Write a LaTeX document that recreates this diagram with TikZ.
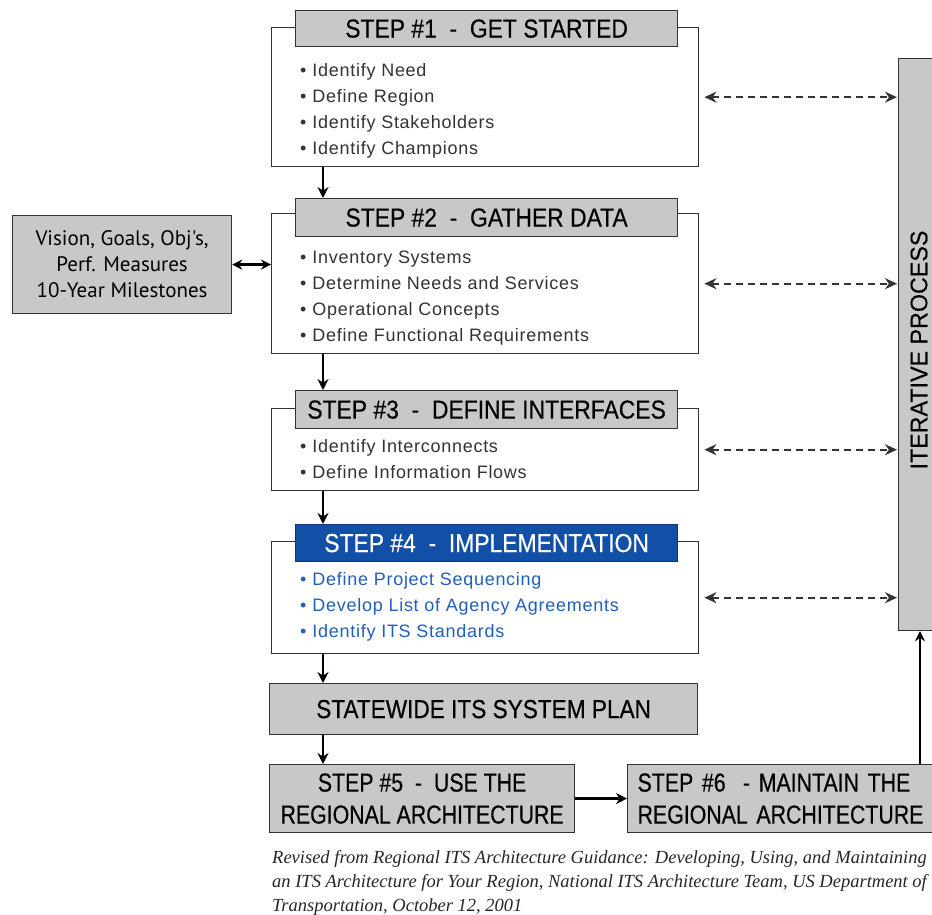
\documentclass[tikz,border=0pt]{standalone}
\usepackage{fontspec}
\setmainfont{Liberation Sans}
\newfontfamily\condh{Liberation Sans}[FakeStretch=0.88,FakeBold=0.4]
\newfontfamily\condsw{Liberation Sans}[FakeStretch=0.87,FakeBold=0.4]
\newfontfamily\condst{Liberation Sans}[FakeStretch=0.82,FakeBold=0.4]
\newfontfamily\condit{Liberation Sans}[FakeStretch=0.97,FakeBold=0.3]
\newfontfamily\bul{Liberation Sans}[LetterSpace=4]
\newfontfamily\myr{PT Sans}
\newfontfamily\capf{Liberation Serif}
\usetikzlibrary{arrows.meta}
\definecolor{boxgray}{HTML}{C8C8C8}
\definecolor{stepblue}{HTML}{1150A6}
\definecolor{bulblue}{HTML}{2160B8}
\definecolor{edge}{HTML}{333333}
\begin{document}
\begin{tikzpicture}[x=1pt,y=-1pt,
 outer/.style={draw=edge, line width=1.4pt, fill=white, anchor=north west, inner sep=0pt},
 head/.style={draw=edge, line width=1.2pt, fill=boxgray, anchor=north west, inner sep=0pt, font=\condh\fontsize{26}{26}\selectfont, text=black},
 graybox/.style={draw=edge, line width=1.2pt, fill=boxgray, anchor=north west, inner sep=0pt, align=center, text=black},
 bullets/.style={anchor=north west, align=left, inner sep=0pt, font=\bul\fontsize{18}{26}\selectfont, text=black!80},
 arr/.style={line width=2.8pt, -{Stealth[length=11pt,width=11pt]}},
 darr/.style={line width=2pt, dash pattern=on 7pt off 5pt, draw=edge, {Stealth[length=12pt,width=11pt]}-{Stealth[length=12pt,width=11pt]}},
 barr/.style={line width=2.6pt, {Stealth[length=10pt,width=10pt]}-{Stealth[length=10pt,width=10pt]}}
]
\useasboundingbox (0,0) rectangle (932,915);
\clip (0,0) rectangle (932,915);

% Step 1
\node[outer, minimum width=427pt, minimum height=139pt] (s1) at (271,27) {};
\node[head, minimum width=382pt, minimum height=36pt] (h1) at (295,10) {STEP \#1\ \ -\ \ GET STARTED};
\node[bullets] (b1) at (300,63) {\textbullet\hspace{6pt}Identify Need\\ \textbullet\hspace{6pt}Define Region\\ \textbullet\hspace{6pt}Identify Stakeholders\\ \textbullet\hspace{6pt}Identify Champions};

% Step 2
\node[outer, minimum width=427pt, minimum height=140pt] (s2) at (271,213) {};
\node[head, minimum width=382pt, minimum height=38pt] (h2) at (295,198) {STEP \#2\ \ -\ \ GATHER DATA};
\node[bullets] (b2) at (300,251) {\textbullet\hspace{6pt}Inventory Systems\\ \textbullet\hspace{6pt}Determine Needs and Services\\ \textbullet\hspace{6pt}Operational Concepts\\ \textbullet\hspace{6pt}Define Functional Requirements};

% Step 3
\node[outer, minimum width=427pt, minimum height=82pt] (s3) at (271,408) {};
\node[head, minimum width=382pt, minimum height=38pt] (h3) at (295,390) {STEP \#3\ \ -\ \ DEFINE INTERFACES};
\node[bullets] (b3) at (300,439) {\textbullet\hspace{6pt}Identify Interconnects\\ \textbullet\hspace{6pt}Define Information Flows};

% Step 4
\node[outer, minimum width=427pt, minimum height=112pt] (s4) at (271,541) {};
\node[head, fill=stepblue, draw=stepblue!70!black, text=white, minimum width=382pt, minimum height=37pt] (h4) at (295,524) {STEP \#4\ \ -\ \ IMPLEMENTATION};
\node[bullets, text=bulblue] (b4) at (300,572) {\textbullet\hspace{6pt}Define Project Sequencing\\ \textbullet\hspace{6pt}Develop List of Agency Agreements\\ \textbullet\hspace{6pt}Identify ITS Standards};

% Vision
\node[graybox, minimum width=219pt, minimum height=98pt, font=\myr\fontsize{21}{26}\selectfont] (vis) at (12,215) {Vision, Goals, Obj's,\\ Perf. Measures\\ 10-Year Milestones};

% Statewide plan
\node[graybox, minimum width=428pt, minimum height=51pt, font=\condsw\fontsize{26}{26}\selectfont] (sw) at (269,683) {STATEWIDE ITS SYSTEM PLAN};

% Step 5 and 6
\node[graybox, minimum width=305pt, minimum height=68pt, font=\condst\fontsize{26}{32}\selectfont] (s5) at (269,764) {STEP \#5\ \ -\ \ USE THE\\ REGIONAL ARCHITECTURE};
\node[graybox, minimum width=320pt, minimum height=68pt, align=left, text width=300pt, inner xsep=10pt, font=\condst\fontsize{26}{32}\selectfont] (s6) at (627,764) {STEP \#6\ \ - MAINTAIN THE\\ REGIONAL ARCHITECTURE};

% Iterative process
\node[graybox, minimum width=48pt, minimum height=572pt] (it) at (898,58) {};
\node[rotate=90, font=\condit\fontsize{24}{24}\selectfont, text=black] (itl) at (919,350) {ITERATIVE PROCESS};

% solid arrows
\draw[arr] ([xshift=52pt]s1.south west) -- ([xshift=28pt]h2.north west);
\draw[arr] ([xshift=52pt]s2.south west) -- ([xshift=28pt]h3.north west);
\draw[arr] ([xshift=52pt]s3.south west) -- ([xshift=28pt]h4.north west);
\draw[arr] ([xshift=52pt]s4.south west) -- ([xshift=54pt]sw.north west);
\draw[arr] ([xshift=54pt]sw.south west) -- ([xshift=54pt]s5.north west);
\draw[arr] (s5.east) -- (s6.west);
\draw[line width=1.6pt, -{Stealth[length=10pt,width=10pt]}] ([xshift=293pt]s6.north west) -- ([xshift=22pt]it.south west);
\draw[barr] (vis.east) -- (s2.west |- vis.east);

% dashed arrows
\draw[darr] ([xshift=5pt]s1.east) -- ([xshift=-1pt]s1.east -| it.west);
\draw[darr] ([xshift=5pt]s2.east) -- ([xshift=-1pt]s2.east -| it.west);
\draw[darr] ([xshift=5pt]s3.east) -- ([xshift=-1pt]s3.east -| it.west);
\draw[darr] ([xshift=5pt]s4.east) -- ([xshift=-1pt]s4.east -| it.west);

% caption
\node[anchor=north west, align=left, inner sep=0pt, font=\capf\itshape\fontsize{18.5}{24}\selectfont, text=black!85] (cap) at (272,850) {Revised from Regional ITS Architecture Guidance: Developing, Using, and Maintaining\\ an ITS Architecture for Your Region, National ITS Architecture Team, US Department of\\ Transportation, October 12, 2001};
\end{tikzpicture}
\end{document}
